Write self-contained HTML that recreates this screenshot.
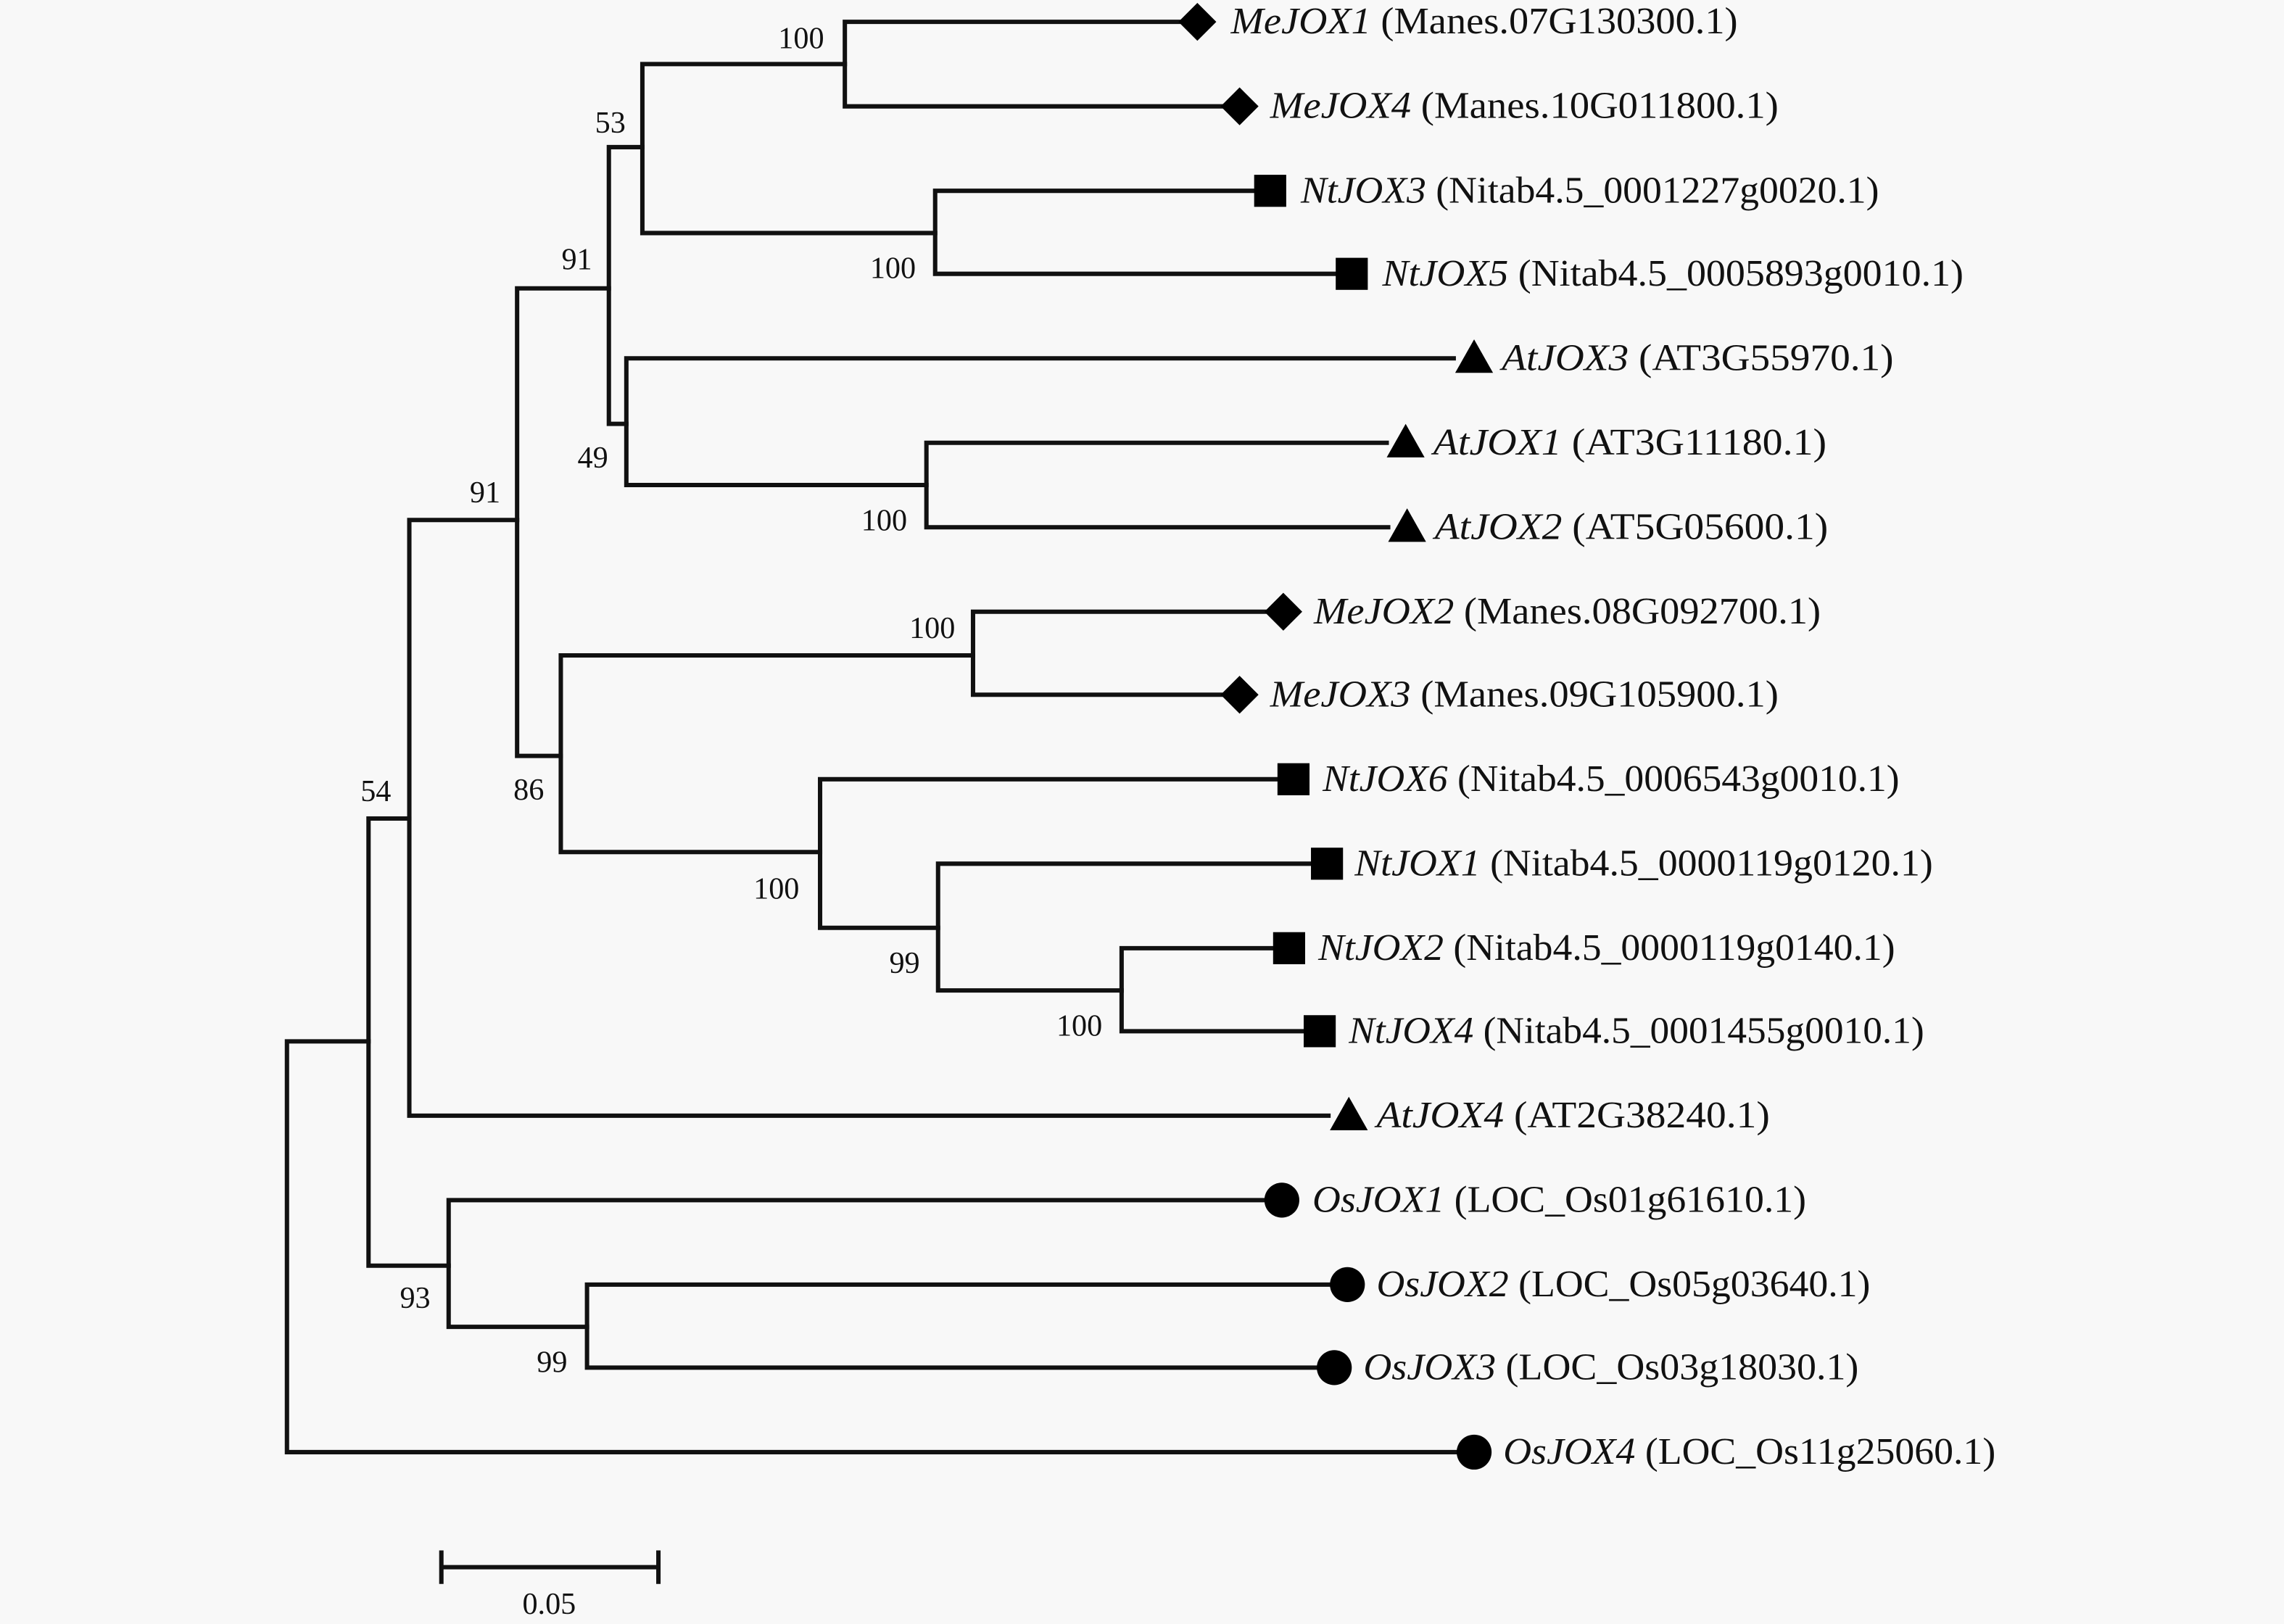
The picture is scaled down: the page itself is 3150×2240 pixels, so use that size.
<!DOCTYPE html>
<html><head><meta charset="utf-8"><style>
html,body{margin:0;padding:0;background:#f8f8f8;}
svg{display:block;}
text{font-family:"Liberation Serif",serif;fill:#111;}
.b{font-size:21px;text-anchor:middle;}
.l{font-size:26px;}
.i{font-style:italic;}
</style></head><body>
<svg width="3150" height="2240" viewBox="0 0 1568 1115" xmlns="http://www.w3.org/2000/svg">
<rect width="1568" height="1115" fill="#f8f8f8"/>
<g stroke="#111" stroke-width="3" fill="none" stroke-linecap="square">
<path d="M197,715V997H1000M197,715H253"/>
<path d="M253,562V869M253,562H281M253,869H308"/>
<path d="M281,357V766H912M281,357H355"/>
<path d="M355,198V519M355,198H418M355,519H385"/>
<path d="M418,101V291M418,101H441M418,291H430"/>
<path d="M441,44V160M441,44H580M441,160H642"/>
<path d="M580,15V73M580,15H810M580,73H840"/>
<path d="M642,131V188M642,131H860M642,188H916"/>
<path d="M430,246V333M430,246H998M430,333H636"/>
<path d="M636,304V362M636,304H952M636,362H953"/>
<path d="M385,450V585M385,450H668M385,585H563"/>
<path d="M668,420V477M668,420H868M668,477H838"/>
<path d="M563,535V637M563,535H876M563,637H644"/>
<path d="M644,593V680M644,593H899M644,680H770"/>
<path d="M770,651V708M770,651H873M770,708H894"/>
<path d="M308,824V911M308,824H868M308,911H403"/>
<path d="M403,882V939M403,882H912M403,939H904"/>
<path d="M303,1076H452M303,1066V1086M452,1066V1086"/>
</g>
<g fill="#000">
<polygon points="822,2 835,15 822,28 809,15"/>
<polygon points="851,60 864,73 851,86 838,73"/>
<rect x="861" y="120" width="22" height="22"/>
<rect x="917" y="177" width="22" height="22"/>
<polygon points="1012,233 1025,256 999,256"/>
<polygon points="965,291 978,314 952,314"/>
<polygon points="966,349 979,372 953,372"/>
<polygon points="881,407 894,420 881,433 868,420"/>
<polygon points="851,464 864,477 851,490 838,477"/>
<rect x="877" y="524" width="22" height="22"/>
<rect x="900" y="582" width="22" height="22"/>
<rect x="874" y="640" width="22" height="22"/>
<rect x="895" y="697" width="22" height="22"/>
<polygon points="926,753 939,776 913,776"/>
<circle cx="880" cy="824" r="12"/>
<circle cx="925" cy="882" r="12"/>
<circle cx="916" cy="939" r="12"/>
<circle cx="1012" cy="997" r="12"/>
</g>
<g class="l">
<text x="845" y="23" textLength="348" lengthAdjust="spacingAndGlyphs"><tspan class="i">MeJOX1</tspan> (Manes.07G130300.1)</text>
<text x="872" y="81" textLength="349" lengthAdjust="spacingAndGlyphs"><tspan class="i">MeJOX4</tspan> (Manes.10G011800.1)</text>
<text x="893" y="139" textLength="397" lengthAdjust="spacingAndGlyphs"><tspan class="i">NtJOX3</tspan> (Nitab4.5_0001227g0020.1)</text>
<text x="949" y="196" textLength="399" lengthAdjust="spacingAndGlyphs"><tspan class="i">NtJOX5</tspan> (Nitab4.5_0005893g0010.1)</text>
<text x="1031" y="254" textLength="269" lengthAdjust="spacingAndGlyphs"><tspan class="i">AtJOX3</tspan>  (AT3G55970.1)</text>
<text x="984" y="312" textLength="270" lengthAdjust="spacingAndGlyphs"><tspan class="i">AtJOX1</tspan>  (AT3G11180.1)</text>
<text x="985" y="370" textLength="270" lengthAdjust="spacingAndGlyphs"><tspan class="i">AtJOX2</tspan>  (AT5G05600.1)</text>
<text x="902" y="428" textLength="348" lengthAdjust="spacingAndGlyphs"><tspan class="i">MeJOX2</tspan> (Manes.08G092700.1)</text>
<text x="872" y="485" textLength="349" lengthAdjust="spacingAndGlyphs"><tspan class="i">MeJOX3</tspan> (Manes.09G105900.1)</text>
<text x="908" y="543" textLength="396" lengthAdjust="spacingAndGlyphs"><tspan class="i">NtJOX6</tspan> (Nitab4.5_0006543g0010.1)</text>
<text x="930" y="601" textLength="397" lengthAdjust="spacingAndGlyphs"><tspan class="i">NtJOX1</tspan>  (Nitab4.5_0000119g0120.1)</text>
<text x="905" y="659" textLength="396" lengthAdjust="spacingAndGlyphs"><tspan class="i">NtJOX2</tspan>  (Nitab4.5_0000119g0140.1)</text>
<text x="926" y="716" textLength="395" lengthAdjust="spacingAndGlyphs"><tspan class="i">NtJOX4</tspan> (Nitab4.5_0001455g0010.1)</text>
<text x="945" y="774" textLength="270" lengthAdjust="spacingAndGlyphs"><tspan class="i">AtJOX4</tspan>  (AT2G38240.1)</text>
<text x="901" y="832" textLength="339" lengthAdjust="spacingAndGlyphs"><tspan class="i">OsJOX1</tspan> (LOC_Os01g61610.1)</text>
<text x="945" y="890" textLength="339" lengthAdjust="spacingAndGlyphs"><tspan class="i">OsJOX2</tspan> (LOC_Os05g03640.1)</text>
<text x="936" y="947" textLength="340" lengthAdjust="spacingAndGlyphs"><tspan class="i">OsJOX3</tspan> (LOC_Os03g18030.1)</text>
<text x="1032" y="1005" textLength="338" lengthAdjust="spacingAndGlyphs"><tspan class="i">OsJOX4</tspan> (LOC_Os11g25060.1)</text>
</g>
<g class="b">
<text x="550" y="33">100</text>
<text x="419" y="91">53</text>
<text x="613" y="191">100</text>
<text x="396" y="185">91</text>
<text x="407" y="321">49</text>
<text x="607" y="364">100</text>
<text x="333" y="345">91</text>
<text x="640" y="438">100</text>
<text x="363" y="549">86</text>
<text x="533" y="617">100</text>
<text x="621" y="668">99</text>
<text x="741" y="711">100</text>
<text x="258" y="550">54</text>
<text x="285" y="898">93</text>
<text x="379" y="942">99</text>
<text x="377" y="1108">0.05</text>
</g>
</svg>
</body></html>
